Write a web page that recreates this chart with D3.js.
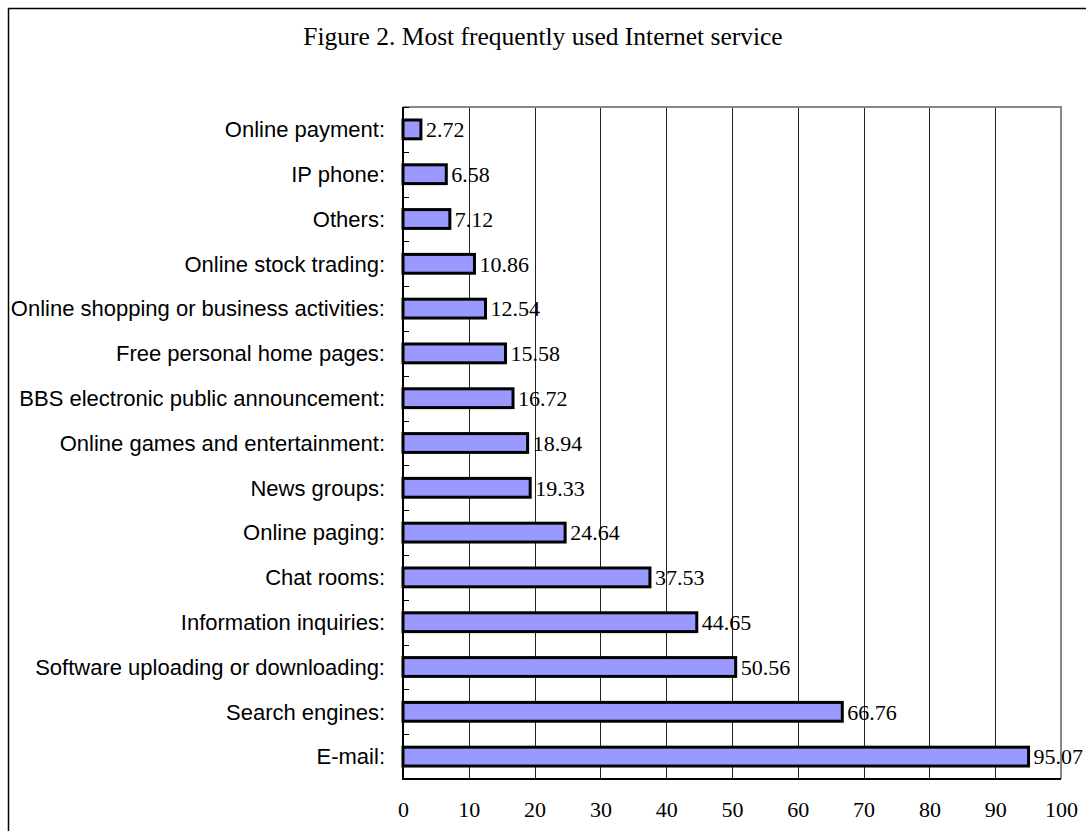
<!DOCTYPE html>
<html>
<head>
<meta charset="utf-8">
<script src="https://cdn.jsdelivr.net/npm/d3@7"></script>
<style>
    body { margin: 0; background: #fff; }
    svg { display: block; }
</style>
</head>
<body>
<svg id="chart" width="1086" height="831"></svg>
<script>
(function(){
    'use strict';

    // Services, listed top to bottom as in the figure
    var services = [
        'Online payment:',
        'IP phone:',
        'Others:',
        'Online stock trading:',
        'Online shopping or business activities:',
        'Free personal home pages:',
        'BBS electronic public announcement:',
        'Online games and entertainment:',
        'News groups:',
        'Online paging:',
        'Chat rooms:',
        'Information inquiries:',
        'Software uploading or downloading:',
        'Search engines:',
        'E-mail:'
    ];

    // Percent of users
    var percents = [2.72, 6.58, 7.12, 10.86, 12.54, 15.58, 16.72, 18.94,
                    19.33, 24.64, 37.53, 44.65, 50.56, 66.76, 95.07];

    var xTicks = [0, 10, 20, 30, 40, 50, 60, 70, 80, 90, 100];

    var title = 'Figure 2. Most frequently used Internet service';

    var data = services.map(function(s, i) {
        return { name: s, value: percents[i] };
    });

    var svg = d3.select('#chart');
    var plot = { left: 403, top: 107, right: 1061, bottom: 779 };
    var serif = '"Liberation Serif", "Times New Roman", serif';

    // outer frame (runs past the picture edges)
    svg.append('rect')
        .attr('x', 8.5).attr('y', 8.5)
        .attr('width', 1200).attr('height', 1000)
        .attr('fill', 'none')
        .attr('stroke', '#000')
        .attr('stroke-width', 1.5);

    svg.append('text')
        .attr('x', 543).attr('y', 45)
        .attr('text-anchor', 'middle')
        .style('font-family', serif)
        .style('font-size', '25.5px')
        .text(title);

    var xScale = d3.scaleLinear()
        .domain([0, 100])
        .range([plot.left, plot.right]);

    var yScale = d3.scaleBand()
        .domain(services)
        .range([plot.top, plot.bottom])
        .paddingInner(0.58)
        .paddingOuter(0.29);

    // vertical gridlines
    svg.append('g')
        .selectAll('line')
        .data(xTicks.slice(1, -1))
        .enter()
        .append('line')
        .attr('x1', function(d) { return Math.round(xScale(d)) + 0.5; })
        .attr('x2', function(d) { return Math.round(xScale(d)) + 0.5; })
        .attr('y1', plot.top)
        .attr('y2', plot.bottom)
        .attr('stroke', '#222')
        .attr('stroke-width', 1);

    // top and right frame of the plot area
    svg.append('path')
        .attr('d', 'M' + plot.left + ',' + plot.top + 'H' + plot.right + 'V' + plot.bottom)
        .attr('fill', 'none')
        .attr('stroke', '#888')
        .attr('stroke-width', 2);

    // bars
    svg.append('g')
        .selectAll('rect')
        .data(data)
        .enter()
        .append('rect')
        .attr('x', xScale(0))
        .attr('y', function(d) { return yScale(d.name); })
        .attr('width', function(d) { return xScale(d.value) - xScale(0); })
        .attr('height', yScale.bandwidth())
        .attr('fill', '#9999ff')
        .attr('stroke', '#000')
        .attr('stroke-width', 3);

    // value labels
    svg.append('g')
        .selectAll('text')
        .data(data)
        .enter()
        .append('text')
        .attr('x', function(d) { return xScale(d.value) + 5; })
        .attr('y', function(d) { return yScale(d.name) + yScale.bandwidth() / 2; })
        .attr('dy', '0.35em')
        .style('font-family', serif)
        .style('font-size', '22px')
        .text(function(d) { return d.value.toFixed(2); });

    // category axis: ticks between bands, pointing inward
    var boundaries = d3.range(services.length + 1).map(function(i) {
        return plot.top + i * (plot.bottom - plot.top) / services.length;
    });
    svg.append('g')
        .selectAll('line')
        .data(boundaries)
        .enter()
        .append('line')
        .attr('x1', plot.left)
        .attr('x2', plot.left + 6)
        .attr('y1', function(d) { return Math.round(d) + 0.5; })
        .attr('y2', function(d) { return Math.round(d) + 0.5; })
        .attr('stroke', '#000');

    svg.append('g')
        .selectAll('text')
        .data(services)
        .enter()
        .append('text')
        .attr('x', 385)
        .attr('y', function(d) { return yScale(d) + yScale.bandwidth() / 2; })
        .attr('dy', '0.35em')
        .attr('text-anchor', 'end')
        .style('font-family', '"Liberation Sans", Arial, sans-serif')
        .style('font-size', '22px')
        .text(function(d) { return d; });

    // axis lines
    svg.append('path')
        .attr('d', 'M' + plot.left + ',' + plot.top + 'V' + plot.bottom + 'H' + plot.right)
        .attr('fill', 'none')
        .attr('stroke', '#000')
        .attr('stroke-width', 2);

    // x tick labels
    var xAxis = d3.axisBottom(xScale)
        .tickValues(xTicks)
        .tickSize(0)
        .tickPadding(22);

    var gx = svg.append('g')
        .attr('transform', 'translate(0,' + plot.bottom + ')')
        .call(xAxis);
    gx.select('.domain').remove();
    gx.selectAll('text')
        .style('font-family', serif)
        .style('font-size', '22px')
        .attr('fill', '#000');
})();
</script>
</body>
</html>
